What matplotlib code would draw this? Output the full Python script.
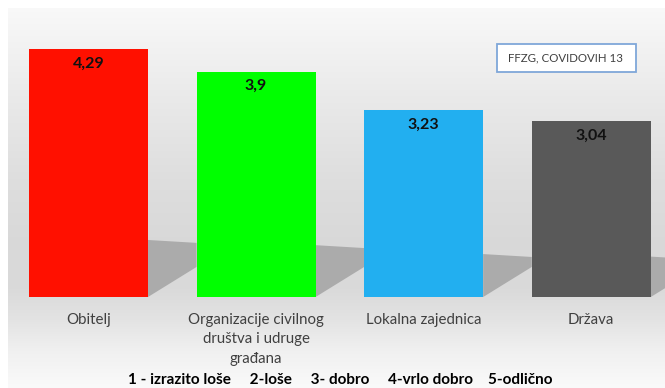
import numpy as np
import matplotlib
matplotlib.use("Agg")
import matplotlib.pyplot as plt
from matplotlib.patches import Polygon, Rectangle

plt.rcParams['font.family'] = ['Lato', 'DejaVu Sans']

categories = ["Obitelj", "Organizacije civilnog\ndruštva i udruge\ngrađana",
              "Lokalna zajednica", "Država"]
values = [4.29, 3.9, 3.23, 3.04]
value_labels = ["4,29", "3,9", "3,23", "3,04"]
colors = ["#ff1000", "#00ff00", "#22aff0", "#595959"]
scale_note = "1 - izrazito loše     2-loše     3- dobro     4-vrlo dobro    5-odlično"
source_note = "FFZG, COVIDOVIH 13"

W, H = 665, 388
fig = plt.figure(figsize=(W / 100, H / 100), dpi=100)
fig.patch.set_facecolor("white")

# panel area in pixels: left 8, top 8, to the right/bottom edges
ax = fig.add_axes([8 / W, 0, (W - 8) / W, (H - 8) / H])
x = np.arange(len(values))
ax.set_xlim(-0.48, 3.44)
ax.set_ylim(-1.574, 5.0)
ax.axis("off")

# vertical grey gradient for the plot background (pixel row -> grey level)
rows_px = np.array([8, 100, 180, 240, 290, 320, 350, 388])
greys = np.array([0.975, 0.915, 0.870, 0.850, 0.855, 0.890, 0.940, 0.980])
yy = np.linspace(8, 388, 380)
g = np.interp(yy, rows_px, greys)
img = np.repeat(g[:, None], 2, axis=1)
ax.imshow(np.dstack([img, img, img]), extent=[-0.48, 3.44, -1.574, 5.0],
          aspect="auto", zorder=0, interpolation="bilinear")

width = 0.71
gap = 1 - width
for xi, v in zip(x, values):
    xr = xi + width / 2
    h = v * 0.23
    # floor shadow behind each bar
    shadow = Polygon([(xr, 0), (xr, h), (xr + gap, h - 0.05), (xr + gap, 0.52)],
                     closed=True, facecolor="#ababab", edgecolor="none", zorder=1)
    ax.add_patch(shadow)

bars = ax.bar(x, values, width=width, color=colors, zorder=2)

for xi, v, lab in zip(x, values, value_labels):
    ax.text(xi, v - 0.25, lab, ha="center", va="center", fontsize=11.5,
            fontweight="bold", color="#111111", zorder=3)

for xi, cat in zip(x, categories):
    ax.text(xi, -0.27, cat, ha="center", va="top", fontsize=10.8,
            color="#404040", linespacing=1.5, zorder=3)

fig.text(340 / W, 1 - 380 / H, scale_note, ha="center", va="center",
         fontsize=11, fontweight="bold", color="black")

# source box
box = Rectangle((497 / W, 1 - 72 / H), 139 / W, 28 / H, transform=fig.transFigure,
                facecolor="white", edgecolor="#7fa7d9", linewidth=1.3, zorder=5)
fig.patches.append(box)
fig.text(566 / W, 1 - 58 / H, source_note, ha="center", va="center",
         fontsize=8.3, color="#404040", zorder=6)

fig.savefig("out.png", dpi=100)
